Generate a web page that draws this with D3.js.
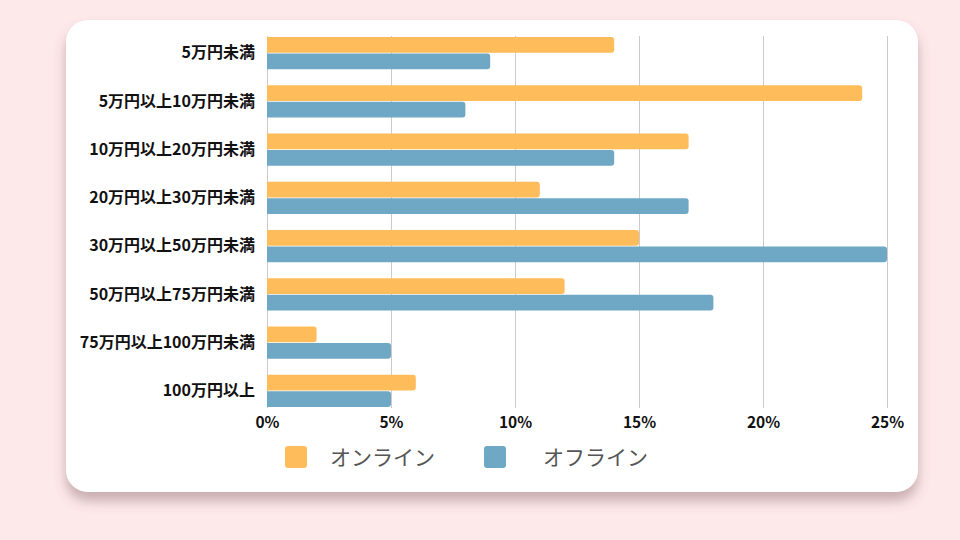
<!DOCTYPE html>
<html>
<head>
<meta charset="utf-8">
<script src="https://cdn.jsdelivr.net/npm/d3@7"></script>
<style>
  html, body { margin: 0; padding: 0; background: #fde8ea; }
  svg { display: block; font-family: "Noto Sans CJK JP", "Noto Sans", sans-serif; }
</style>
</head>
<body>
<svg id="chart" width="960" height="540"></svg>
<script>
const categories = ["5万円未満", "5万円以上10万円未満", "10万円以上20万円未満", "20万円以上30万円未満",
  "30万円以上50万円未満", "50万円以上75万円未満", "75万円以上100万円未満", "100万円以上"];
const series = ["オンライン", "オフライン"];
const online = [14, 24, 17, 11, 15, 12, 2, 6];
const offline = [9, 8, 14, 17, 25, 18, 5, 5];
const xTicks = [0, 5, 10, 15, 20, 25];
const colors = ["#ffbc5b", "#6fa8c4"];

const svg = d3.select("#chart");

// card with shadow
const defs = svg.append("defs");
const f = defs.append("filter").attr("id", "shadow").attr("x", "-10%").attr("y", "-10%").attr("width", "120%").attr("height", "130%");
f.append("feDropShadow").attr("dx", 0).attr("dy", 9).attr("stdDeviation", 6)
  .attr("flood-color", "#7a5a5a").attr("flood-opacity", 0.4);

svg.append("rect")
  .attr("x", 66).attr("y", 20).attr("width", 852).attr("height", 472)
  .attr("rx", 22).attr("fill", "#fff").attr("filter", "url(#shadow)");

const x = d3.scaleLinear().domain([0, 25]).range([267, 887]);
const y = d3.scaleBand().domain(categories).range([29, 415]).paddingInner(0.33).paddingOuter(0.165);
const ys = d3.scaleBand().domain(series).range([0, y.bandwidth()]).paddingInner(0.06);

// gridlines
svg.append("g")
  .selectAll("line")
  .data(xTicks)
  .join("line")
    .attr("x1", d => x(d) + 0.5).attr("x2", d => x(d) + 0.5)
    .attr("y1", 36).attr("y2", 408)
    .attr("stroke", "#cfc8cc").attr("stroke-width", 1);

// bars: square left end, rounded right end
function barPath(x0, x1, y0, h, r) {
  r = Math.min(r, (x1 - x0) / 2, h / 2);
  return `M${x0},${y0}H${x1 - r}A${r},${r} 0 0 1 ${x1},${y0 + r}V${y0 + h - r}A${r},${r} 0 0 1 ${x1 - r},${y0 + h}H${x0}Z`;
}

const rows = categories.map((c, i) => ({ cat: c, vals: [online[i], offline[i]] }));
const g = svg.append("g");
rows.forEach(row => {
  row.vals.forEach((v, j) => {
    g.append("path")
      .attr("d", barPath(x(0), x(v), y(row.cat) + ys(series[j]), ys.bandwidth(), 3))
      .attr("fill", colors[j]);
  });
});

// y axis labels
svg.append("g")
  .attr("transform", `translate(${x(0)},0)`)
  .call(d3.axisLeft(y).tickSize(0).tickPadding(12))
  .call(a => a.select(".domain").remove())
  .call(a => a.selectAll("text")
    .attr("font-family", "'Noto Sans CJK JP', sans-serif")
    .attr("font-size", 16).attr("font-weight", "bold").attr("fill", "#111"));

// x axis labels
svg.append("g")
  .attr("transform", `translate(0,408)`)
  .call(d3.axisBottom(x).tickValues(xTicks).tickSize(0).tickPadding(9).tickFormat(d => d + "%"))
  .call(a => a.select(".domain").remove())
  .call(a => a.selectAll("text")
    .attr("font-family", "'Noto Sans CJK JP', sans-serif")
    .attr("font-size", 15.5).attr("font-weight", "bold").attr("fill", "#111"));

// legend
const legendX = [285, 484];
const legendTextX = [330, 543];
const legend = svg.append("g")
  .selectAll("g")
  .data(series)
  .join("g");
legend.append("rect")
  .attr("x", (d, i) => legendX[i]).attr("y", 446)
  .attr("width", 22).attr("height", 22).attr("rx", 3)
  .attr("fill", (d, i) => colors[i]);
legend.append("text")
  .attr("x", (d, i) => legendTextX[i]).attr("y", 457).attr("dy", "0.36em")
  .attr("font-size", 21).attr("fill", "#555")
  .text(d => d);
</script>
</body>
</html>
